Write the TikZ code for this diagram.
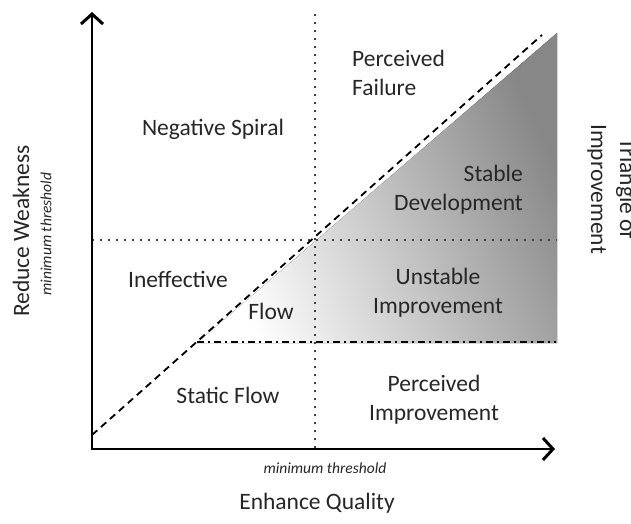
\documentclass[tikz,border=0pt]{standalone}
\usepackage{fontspec}
\setmainfont{Carlito}
\usetikzlibrary{arrows.meta}
\tikzset{region label/.style={font=\fontsize{23.5}{29}\selectfont,text=black!85,inner sep=0pt},
            small label/.style={font=\fontsize{15.5}{18}\selectfont\itshape,text=black!85,inner sep=0pt},
            axis line/.style={line width=2.6pt,line cap=round,-{Straight Barb[length=10pt,width=22pt,line width=3pt]}},
            threshold line/.style={line width=2pt,black!75,dash pattern=on 1.6pt off 6.4pt},
            }

\begin{document}
\begin{tikzpicture}[x=1pt,y=-1pt]
    \useasboundingbox (0,0) rectangle (631,524);

    \coordinate (origin) at (92,449);
    \coordinate (ytip) at (92,12);
    \coordinate (xtip) at (555,449);
    \coordinate (qtop) at (315,14);
    \coordinate (qbot) at (315,449);
    \coordinate (wleft) at (92,240);
    \coordinate (wright) at (557,240);
    \coordinate (dstart) at (92,435);
    \coordinate (dend) at (542,35);
    \coordinate (tleft) at (197,342);
    \coordinate (tright) at (556,342);

    % triangle of improvement
    \fill[left color=white,right color=black!47,shading angle=115]
        (197,343) -- (557,33) -- (557,343) -- cycle;

    \draw[threshold line] (qtop) -- (qbot);
    \draw[threshold line] (wleft) -- (wright);
    \draw[line width=1.8pt,dash pattern=on 7pt off 5pt] (dstart) -- (dend);
    \draw[line width=1.8pt,dash pattern=on 7pt off 4pt on 2pt off 4pt] (tleft) -- (tright);

    \draw[axis line] (origin) -- (ytip);
    \draw[axis line] (origin) -- (xtip);

    \node[region label,anchor=west,align=left] (pfail) at (352,73) {Perceived\\Failure};
    \node[region label] (negspiral) at (213,129) {Negative Spiral};
    \node[region label,anchor=east,align=right] (stabledev) at (523,189.5) {Stable\\Development};
    \node[region label] (ineff) at (178,279) {Ineffective};
    \node[region label] (flow) at (271,311) {Flow};
    \node[region label,align=center] (unstable) at (438,293) {Unstable\\Improvement};
    \node[region label] (staticflow) at (228,395) {Static Flow};
    \node[region label,align=center] (pimprove) at (434,400) {Perceived\\Improvement};

    \node[small label] (xthresh) at (325,468) {minimum threshold};
    \node[region label] (xlabel) at (317,503) {Enhance Quality};
    \node[region label,rotate=90] (ylabel) at (21,231) {Reduce Weakness};
    \node[small label,rotate=90] (ythresh) at (46,234) {minimum threshold};
    \node[region label,rotate=-90,align=center] (triangle) at (612,189) {Triangle of\\Improvement};
\end{tikzpicture}
\end{document}
